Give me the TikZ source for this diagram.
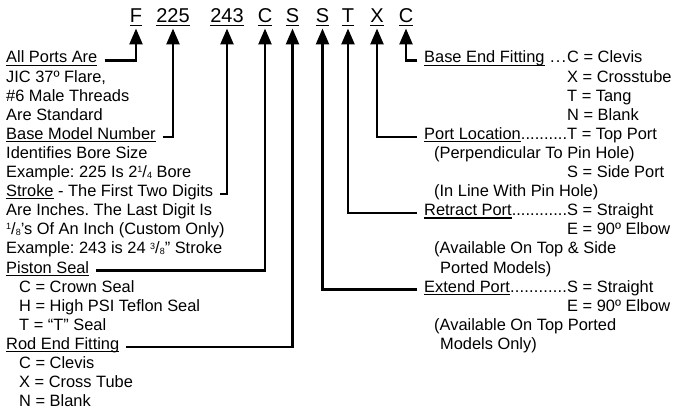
\documentclass[tikz,border=0pt]{standalone}
\usepackage{fontspec}
\setmainfont{Liberation Sans}
\usetikzlibrary{positioning, arrows.meta}

\newsavebox\undlbox
\newcommand\undl[1]{\sbox\undlbox{#1}\rlap{\vrule height -0.1em depth 0.165em width \wd\undlbox}\usebox\undlbox}
\newcommand\dotlead[2][]{\makebox[143pt][l]{\undl{#2}#1\xleaders\hbox{.}\hfill}}
\newcommand\frc[2]{{\fontsize{9}{9}\selectfont\raisebox{0.55em}{#1}}/{\fontsize{9}{9}\selectfont\raisebox{-0.1em}{#2}}}
\frenchspacing

\begin{document}
\begin{tikzpicture}[
    x=1pt, y=-1pt,
    txt/.style={anchor=base west, inner sep=0pt, font=\fontsize{16.4}{19.1}\selectfont},
    code/.style={anchor=base, inner sep=2pt, font=\fontsize{20}{24}\selectfont},
    arrow/.style={-{Triangle[length=16pt,width=13pt]}, line width=2.5pt, shorten <=7pt}
  ]
    \useasboundingbox (0,0) rectangle (673,414);

    % model code
    \node[code] (cf)      at (136,23)   {\undl{F}};
    \node[code] (cbore)   at (173,23)   {\undl{225}};
    \node[code] (cstroke) at (227,23)   {\undl{243}};
    \node[code] (cseal)   at (265,23)   {\undl{C}};
    \node[code] (crod)    at (292.5,23) {\undl{S}};
    \node[code] (cext)    at (322.5,23) {\undl{S}};
    \node[code] (cret)    at (348,23)   {\undl{T}};
    \node[code] (cloc)    at (377,23)   {\undl{X}};
    \node[code] (cbase)   at (406,23)   {\undl{C}};

    % left column
    \node[txt] (allports)  at (6,63)    {\undl{All Ports Are}};
    \node[txt] (flare)     at (6,82.1)  {JIC 37º Flare,};
    \node[txt] (threads)   at (6,101.2) {\#6 Male Threads};
    \node[txt] (standard)  at (6,120.3) {Are Standard};
    \node[txt] (basemodel) at (6,139.4) {\undl{Base Model Number}};
    \node[txt] (boresize)  at (6,158.5) {Identifies Bore Size};
    \node[txt] (boreex)    at (6,177.6) {Example: 225 Is 2\frc{1}{4} Bore};
    \node[txt] (strokelbl) at (6,196.7) {\undl{Stroke} - The First Two Digits};
    \node[txt] (inches)    at (6,215.8) {Are Inches. The Last Digit Is};
    \node[txt] (eighths)   at (6,234.9) {\frc{1}{8}'s Of An Inch (Custom Only)};
    \node[txt] (strokeex)  at (6,254)   {Example: 243 is 24 \frc{3}{8}'' Stroke};
    \node[txt] (piston)    at (6,273.1) {\undl{Piston Seal}};
    \node[txt] (crown)     at (19,292.2) {C = Crown Seal};
    \node[txt] (teflon)    at (19,311.3) {H = High PSI Teflon Seal};
    \node[txt] (tseal)     at (19,330.4) {T = ``T'' Seal};
    \node[txt] (rodend)    at (6,349.5) {\undl{Rod End Fitting}};
    \node[txt] (rclevis)   at (19,368.6) {C = Clevis};
    \node[txt] (rcross)    at (19,387.7) {X = Cross Tube};
    \node[txt] (rblank)    at (19,406.8) {N = Blank};

    % right column
    \node[txt] (basefit)   at (424,63)    {\dotlead[\ ]{Base End Fitting}};
    \node[txt] (bclevis)   at (567,63)    {C = Clevis};
    \node[txt] (bcross)    at (567,82.1)  {X = Crosstube};
    \node[txt] (btang)     at (567,101.2) {T = Tang};
    \node[txt] (bblank)    at (567,120.3) {N = Blank};
    \node[txt] (portloc)   at (424,139.4) {\dotlead{Port Location}};
    \node[txt] (topport)   at (567,139.4) {T = Top Port};
    \node[txt] (perp)      at (434,158.5) {(Perpendicular To Pin Hole)};
    \node[txt] (sideport)  at (567,177.6) {S = Side Port};
    \node[txt] (inline)    at (434,196.7) {(In Line With Pin Hole)};
    \node[txt] (retract)   at (424,215.8) {\dotlead{Retract Port}};
    \node[txt] (rstraight) at (567,215.8) {S = Straight};
    \node[txt] (relbow)    at (567,234.9) {E = 90º Elbow};
    \node[txt] (ravail)    at (434,254)   {(Available On Top \& Side};
    \node[txt] (rmodels)   at (440,273.1) {Ported Models)};
    \node[txt] (extend)    at (424,292.2) {\dotlead{Extend Port}};
    \node[txt] (estraight) at (567,292.2) {S = Straight};
    \node[txt] (eelbow)    at (567,311.3) {E = 90º Elbow};
    \node[txt] (eavail)    at (434,330.4) {(Available On Top Ported};
    \node[txt] (emodels)   at (440,349.5) {Models Only)};

    % connectors
    \draw[arrow] (allports.mid east) -| (cf.south);
    \draw[arrow] (basemodel.mid east) -| (cbore.south);
    \draw[arrow] (strokelbl.mid east) -| (cstroke.south);
    \draw[arrow] (piston.mid east) -| (cseal.south);
    \draw[arrow] (rodend.mid east) -| (crod.south);
    \draw[arrow] (extend.mid west) -| (cext.south);
    \draw[arrow] (retract.mid west) -| (cret.south);
    \draw[arrow] (portloc.mid west) -| (cloc.south);
    \draw[arrow] (basefit.mid west) -| (cbase.south);
\end{tikzpicture}
\end{document}
